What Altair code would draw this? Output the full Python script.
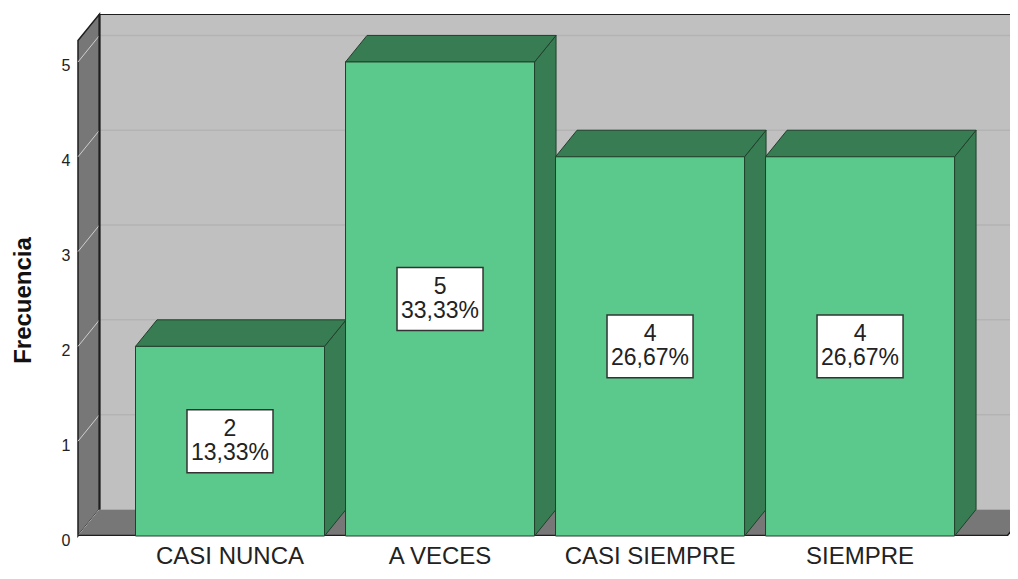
import altair as alt
import pandas as pd

# ---- data ----
categories = ["CASI NUNCA", "A VECES", "CASI SIEMPRE", "SIEMPRE"]
counts = [2, 5, 4, 4]
percents = ["13,33%", "33,33%", "26,67%", "26,67%"]
y_ticks = [0, 1, 2, 3, 4, 5]

# ---- geometry (in data units) ----
HW = 0.45          # half bar width (category units)
DX = 0.1024        # depth offset x
DY = 0.28          # depth offset y (frequency units)
XMIN, XMAX = -0.7238, 3.714
YMAX = 5.506
FLOOR_R = 3.70
BOX_HX, BOX_HY = 0.2048, 0.332

FONT = "Liberation Sans"
WALL = "#C0C0C0"
SIDE = "#777777"
EDGE = "#1E1E1E"
FRONT_GREEN = "#5BC98B"
DARK_GREEN = "#377C53"
BAR_EDGE = "#21402C"

xs = alt.Scale(domain=[XMIN, XMAX], nice=False, zero=False)
ys = alt.Scale(domain=[0, YMAX], nice=False, zero=False)
yaxis = alt.Axis(values=y_ticks, grid=False, domain=False, ticks=False,
                 labelPadding=8, labelFontSize=16, labelColor="#222222",
                 labelFont=FONT, labelOffset=4, title="Frecuencia",
                 titleFont=FONT, titleFontSize=24, titleFontWeight="bold",
                 titleColor="#111111", titleAngle=-90, titleAlign="center",
                 titleBaseline="middle", titleX=-55, titleY=286)


def X(f):
    return alt.X(f, type="quantitative", scale=xs, axis=None)


def Y(f):
    return alt.Y(f, type="quantitative", scale=ys, axis=yaxis, stack=None)


def X2(f):
    return alt.X2(f)


def Y2(f):
    return alt.Y2(f)


# back wall
back = pd.DataFrame({"x": [XMIN + DX], "x2": [XMAX], "y": [DY], "y2": [YMAX]})
back_l = alt.Chart(back).mark_rect(fill=WALL).encode(
    x=X("x"), x2=X2("x2"), y=Y("y"), y2=Y2("y2"))

# back gridlines
grid = pd.DataFrame({"v": [t + DY for t in y_ticks[1:]],
                     "x": XMIN + DX, "x2": XMAX})
grid_l = alt.Chart(grid).mark_rule(color="#B3B3B3", strokeWidth=1.5).encode(
    x=X("x"), x2=X2("x2"), y=Y("v"))

# left wall
lw = pd.DataFrame({"x": [XMIN, XMIN + DX], "yt": [YMAX - DY, YMAX], "yb": [0, DY]})
lw_l = alt.Chart(lw).mark_area(fill=SIDE, stroke=EDGE, strokeWidth=1.5,
                               orient="vertical").encode(
    x=X("x"), y=Y("yt"), y2=Y2("yb"))

# left wall diagonals
diag = pd.DataFrame({"x": XMIN, "x2": XMIN + DX,
                     "y": y_ticks, "y2": [t + DY for t in y_ticks]})
diag_l = alt.Chart(diag).mark_rule(color="#CFCFCF", strokeWidth=1).encode(
    x=X("x"), x2=X2("x2"), y=Y("y"), y2=Y2("y2"))

# floor
fl = pd.DataFrame({"y": [0, DY], "xl": [XMIN, XMIN + DX], "xr": [FLOOR_R, FLOOR_R + DX]})
fl_l = alt.Chart(fl).mark_area(fill=SIDE, orient="horizontal", clip=True).encode(
    y=Y("y"), x=X("xl"), x2=X2("xr"))

# dark edges
edges = pd.DataFrame({
    "x": [XMIN + DX, XMIN + DX, XMIN, FLOOR_R],
    "x2": [XMAX, XMIN + DX, FLOOR_R, FLOOR_R + DX],
    "y": [YMAX, DY, 0, 0],
    "y2": [YMAX, YMAX, 0, DY],
    "w": [2, 2, 2.5, 1.5],
})
edge_l = alt.Chart(edges).mark_rule(color=EDGE, clip=True).encode(
    x=X("x"), x2=X2("x2"), y=Y("y"), y2=Y2("y2"),
    strokeWidth=alt.StrokeWidth("w:Q", scale=None, legend=None))

# bars
side_rows, top_rows, front_rows, box_rows = [], [], [], []
for i, (c, v, p) in enumerate(zip(categories, counts, percents)):
    side_rows += [{"cat": c, "x": i + HW, "yt": v, "yb": 0},
                  {"cat": c, "x": i + HW + DX, "yt": v + DY, "yb": DY}]
    top_rows += [{"cat": c, "y": v, "xl": i - HW, "xr": i + HW},
                 {"cat": c, "y": v + DY, "xl": i - HW + DX, "xr": i + HW + DX}]
    front_rows.append({"cat": c, "i": i, "x": i - HW, "x2": i + HW, "y": 0, "y2": v})
    box_rows.append({"cat": c, "i": i, "x": i - BOX_HX, "x2": i + BOX_HX,
                     "y": v / 2 - BOX_HY, "y2": v / 2 + BOX_HY, "yc": v / 2,
                     "label": f"{v}\n{p}"})

side_l = alt.Chart(pd.DataFrame(side_rows)).mark_area(
    fill=DARK_GREEN, stroke=BAR_EDGE, strokeWidth=1, orient="vertical").encode(
    x=X("x"), y=Y("yt"), y2=Y2("yb"), detail="cat:N")
top_l = alt.Chart(pd.DataFrame(top_rows)).mark_area(
    fill=DARK_GREEN, stroke=BAR_EDGE, strokeWidth=1, orient="horizontal").encode(
    y=Y("y"), x=X("xl"), x2=X2("xr"), detail="cat:N")
front_l = alt.Chart(pd.DataFrame(front_rows)).mark_rect(
    fill=FRONT_GREEN, stroke=BAR_EDGE, strokeWidth=1).encode(
    x=X("x"), x2=X2("x2"), y=Y("y"), y2=Y2("y2"))

boxes = pd.DataFrame(box_rows)
box_l = alt.Chart(boxes).mark_rect(fill="white", stroke="#333333", strokeWidth=1.5).encode(
    x=X("x"), x2=X2("x2"), y=Y("y"), y2=Y2("y2"))
txt_l = alt.Chart(boxes).mark_text(
    font=FONT, fontSize=23, lineHeight=24, lineBreak="\n", color="#222222",
    align="center", baseline="middle", dy=-12).encode(
    x=X("i"), y=Y("yc"), text="label:N")

cats = pd.DataFrame({"i": list(range(len(categories))), "cat": categories, "y": 0})
cat_l = alt.Chart(cats).mark_text(
    font=FONT, fontSize=24, color="#222222", align="center", baseline="middle",
    dy=21).encode(x=X("i"), y=Y("y"), text="cat:N")

chart = alt.layer(back_l, grid_l, lw_l, diag_l, fl_l, edge_l,
                  side_l, top_l, front_l, box_l, txt_l, cat_l).properties(
    width=932, height=522,
    padding={"left": 70, "top": 6, "right": 0, "bottom": 35},
    autosize=alt.AutoSizeParams(type="none"),
    background="white",
).configure_view(stroke=None)

chart.save("out.html", embed_options={"renderer": "svg", "actions": False})
